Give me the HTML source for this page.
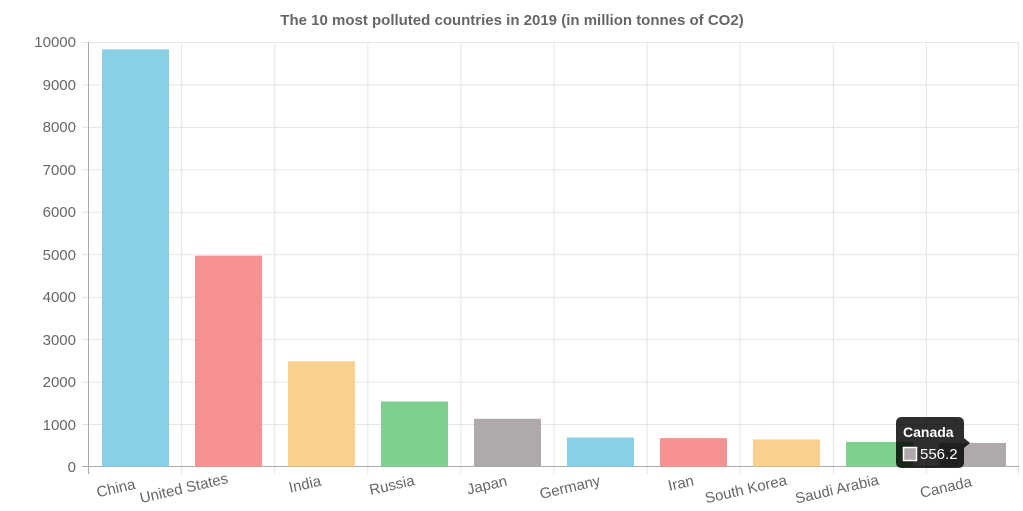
<!DOCTYPE html>
<html><head><meta charset="utf-8"><style>body{margin:0;background:#fff}svg{display:block}text{font-family:"Liberation Sans",sans-serif}</style></head><body>
<svg width="1023" height="511" viewBox="0 0 1023 511">
<text x="512" y="25" text-anchor="middle" font-size="15" font-weight="bold" fill="#666">The 10 most polluted countries in 2019 (in million tonnes of CO2)</text>
<g stroke="#e5e5e5" stroke-width="1">
<line x1="82" y1="42.5" x2="1019" y2="42.5"/><line x1="82" y1="84.9" x2="1019" y2="84.9"/><line x1="82" y1="127.4" x2="1019" y2="127.4"/><line x1="82" y1="169.8" x2="1019" y2="169.8"/><line x1="82" y1="212.3" x2="1019" y2="212.3"/><line x1="82" y1="254.7" x2="1019" y2="254.7"/><line x1="82" y1="297.2" x2="1019" y2="297.2"/><line x1="82" y1="339.6" x2="1019" y2="339.6"/><line x1="82" y1="382.1" x2="1019" y2="382.1"/><line x1="82" y1="424.5" x2="1019" y2="424.5"/>
<line x1="181.6" y1="42" x2="181.6" y2="474"/><line x1="274.7" y1="42" x2="274.7" y2="474"/><line x1="367.8" y1="42" x2="367.8" y2="474"/><line x1="460.9" y1="42" x2="460.9" y2="474"/><line x1="554" y1="42" x2="554" y2="474"/><line x1="647.1" y1="42" x2="647.1" y2="474"/><line x1="740.2" y1="42" x2="740.2" y2="474"/><line x1="833.3" y1="42" x2="833.3" y2="474"/><line x1="926.4" y1="42" x2="926.4" y2="474"/><line x1="1018.5" y1="42" x2="1018.5" y2="474"/>
</g>
<g stroke="#aaa"><line x1="88.5" y1="42" x2="88.5" y2="474"/><line x1="82" y1="466.5" x2="1019" y2="466.5"/></g>
<g font-size="15" fill="#666" text-anchor="end">
<text x="76" y="47">10000</text><text x="76" y="90">9000</text><text x="76" y="132">8000</text><text x="76" y="175">7000</text><text x="76" y="217">6000</text><text x="76" y="260">5000</text><text x="76" y="302">4000</text><text x="76" y="345">3000</text><text x="76" y="387">2000</text><text x="76" y="430">1000</text><text x="76" y="472">0</text>
</g>
<rect x="102" y="49.4" width="67" height="417.1" fill="#87d0e6"/>
<rect x="195" y="255.7" width="67" height="210.8" fill="#f99190"/>
<rect x="288" y="361.2" width="67" height="105.3" fill="#f9d08e"/>
<rect x="381" y="401.5" width="67" height="65" fill="#7dd08d"/>
<rect x="474" y="418.8" width="67" height="47.7" fill="#b0a9a9"/>
<rect x="567" y="437.5" width="67" height="29" fill="#87d0e6"/>
<rect x="660" y="438.1" width="67" height="28.4" fill="#f99190"/>
<rect x="753" y="439.4" width="67" height="27.1" fill="#f9d08e"/>
<rect x="846" y="441.9" width="67" height="24.6" fill="#7dd08d"/>
<rect x="939" y="442.9" width="67" height="23.6" fill="#b0a9a9"/>
<g font-size="15" fill="#666" text-anchor="middle">
<text transform="translate(117,493) rotate(-13)">China</text>
<text transform="translate(185,493) rotate(-13)">United States</text>
<text transform="translate(306,489) rotate(-13)">India</text>
<text transform="translate(393,490) rotate(-13)">Russia</text>
<text transform="translate(488,490) rotate(-13)">Japan</text>
<text transform="translate(571,492) rotate(-13)">Germany</text>
<text transform="translate(682,488) rotate(-13)">Iran</text>
<text transform="translate(747,494) rotate(-13)">South Korea</text>
<text transform="translate(838,494) rotate(-13)">Saudi Arabia</text>
<text transform="translate(947,492) rotate(-13)">Canada</text>
</g>
<path d="M902 417 H958 Q964 417 964 423 V438 L970 443 L964 448 V462 Q964 468 958 468 H902 Q896 468 896 462 V423 Q896 417 902 417Z" fill="rgba(0,0,0,0.82)"/>
<text x="903" y="437" font-size="14" font-weight="bold" fill="#fff">Canada</text>
<rect x="903.5" y="447.5" width="13" height="13" fill="#b0a9a9" stroke="#fff" stroke-width="1.5"/>
<text x="920" y="459" font-size="15" fill="#fff">556.2</text>
</svg>
</body></html>
